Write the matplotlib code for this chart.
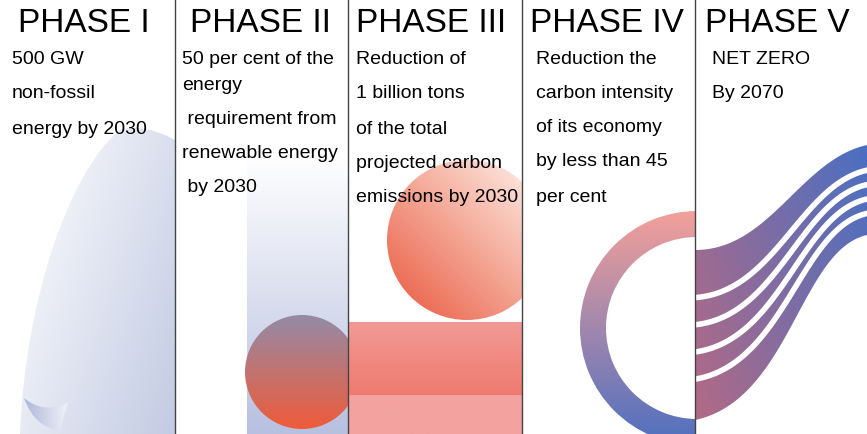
import numpy as np
import matplotlib
matplotlib.use("Agg")
import matplotlib.pyplot as plt
from matplotlib.patches import Circle, Rectangle, Wedge, PathPatch
from matplotlib.path import Path
from matplotlib.colors import LinearSegmentedColormap

phases = ["PHASE I", "PHASE II", "PHASE III", "PHASE IV", "PHASE V"]
texts = [
    ["500 GW", "non-fossil", "energy by 2030"],
    ["50 per cent of the", "energy", " requirement from", "renewable energy", " by 2030"],
    ["Reduction of", "1 billion tons", "of the total", "projected carbon", "emissions by 2030"],
    ["Reduction the", "carbon intensity", "of its economy", "by less than 45", "per cent"],
    ["NET ZERO", "By 2070"],
]
line_y = [
    [59, 94, 129],
    [59, 86, 120, 154, 188],
    [59, 94, 129, 163, 197],
    [59, 93, 128, 162, 198],
    [59, 94],
]
text_x = [12, 182, 356, 536, 712]
title_x = [18, 190, 356, 530, 705]
dividers = [175, 348, 522, 695]

W, H = 867, 434
fig = plt.figure(figsize=(8.67, 4.34), dpi=100)
ax = fig.add_axes([0, 0, 1, 1])
ax.set_xlim(0, W); ax.set_ylim(H, 0); ax.axis("off")
plt.rcParams['font.family'] = ['Liberation Sans', 'DejaVu Sans']

def grad(patch, c1, c2, extent, z, vertical=True, angle=None):
    ax.add_patch(patch); patch.set_visible(False)
    n = 256
    if angle is None:
        g = np.linspace(0, 1, n)[:, None] * np.ones((1, n)) if vertical else np.ones((n, 1)) * np.linspace(0, 1, n)[None, :]
    else:
        yy, xx = np.mgrid[0:1:n*1j, 0:1:n*1j]
        g = (xx*np.cos(angle) + yy*np.sin(angle)); g = (g-g.min())/(g.max()-g.min())
    cm = LinearSegmentedColormap.from_list("g", [c1, c2])
    im = ax.imshow(g, cmap=cm, extent=extent, origin="upper", aspect="auto", zorder=z)
    im.set_clip_path(patch)
    return im

def cover(x0, x1, z, y0=0, y1=H):
    ax.add_patch(Rectangle((x0, y0), x1 - x0, y1 - y0, color="white", zorder=z, lw=0))

# Panel 1: curled page
p1 = Path([(20, 434), (25, 300), (70, 170), (120, 130), (145, 122), (175, 140), (175, 140),
           (175, 434), (20, 434)],
          [Path.MOVETO, Path.CURVE4, Path.CURVE4, Path.CURVE4, Path.CURVE4, Path.CURVE4, Path.LINETO,
           Path.LINETO, Path.CLOSEPOLY])
grad(PathPatch(p1), "#ffffff", "#c3cbe3", (20, 175, 434, 120), 1, angle=0.6)
pc = Path([(24, 398), (45, 415), (68, 402), (60, 430), (35, 428), (24, 398)],
          [Path.MOVETO, Path.CURVE3, Path.CURVE3, Path.LINETO, Path.CURVE3, Path.CURVE3])
grad(PathPatch(pc), "#aab4d8", "#f3f4fa", (22, 70, 432, 396), 1.2, vertical=False)

# Panel 2
grad(Rectangle((247, 155), 101, 279), "#ffffff", "#b7c0df", (247, 348, 434, 155), 1)
grad(Circle((302, 372), 57), "#8b8fb0", "#ef5b3a", (245, 359, 429, 305), 1.1)
cover(348.5, 400, 1.5)

# Panel 3
grad(Rectangle((348, 395), 174, 39), "#f3a2a0", "#f3a2a0", (348, 522, 434, 395), 2)
grad(Rectangle((348, 322), 174, 73), "#f19a95", "#ef7a70", (348, 522, 395, 322), 2)
grad(Circle((467, 240), 80), "#e9573c", "#fff6f0", (387, 547, 320, 160), 2.1, angle=-0.785)
cover(522.5, 560, 2.5)

# Panel 4: ring
grad(Wedge((697, 328), 117, 0, 360, width=26), "#f4a09a", "#4f6fc0", (578, 814, 445, 211), 3)
cover(695.5, 820, 3.5, 200, H)

# Panel 5: swoosh bands
def bez(P, t):
    P = np.array(P, float)
    return ((1-t)**3)[:, None]*P[0] + (3*(1-t)**2*t)[:, None]*P[1] + (3*(1-t)*t**2)[:, None]*P[2] + (t**3)[:, None]*P[3]

top = [(695, 250), (770, 250), (800, 160), (867, 145)]
bot = [(695, 420), (790, 400), (800, 250), (867, 235)]
t = np.linspace(0, 1, 80)
T = bez(top, t); B = bez(bot, t)[::-1]
band = np.vstack([T, B])
p5 = Path(np.vstack([band, band[:1]]), closed=True)
grad(PathPatch(p5), "#b46a84", "#4a6fc2", (695, 867, 434, 140), 4, angle=-0.5)
for f in [0.28, 0.44, 0.6, 0.76]:
    L = bez(top, t) * (1 - f) + bez(bot, t) * f
    ax.plot(L[:, 0], L[:, 1], color="white", lw=4, zorder=4.5)

for x in dividers:
    ax.plot([x, x], [0, H], color="#444444", lw=1, zorder=6)

for i in range(5):
    ax.text(title_x[i], 24, phases[i], fontsize=24, va="center", ha="left", zorder=7)
    for s, y in zip(texts[i], line_y[i]):
        ax.text(text_x[i], y, s, fontsize=14, va="center", ha="left", zorder=7)

fig.savefig("out.png", dpi=100)
